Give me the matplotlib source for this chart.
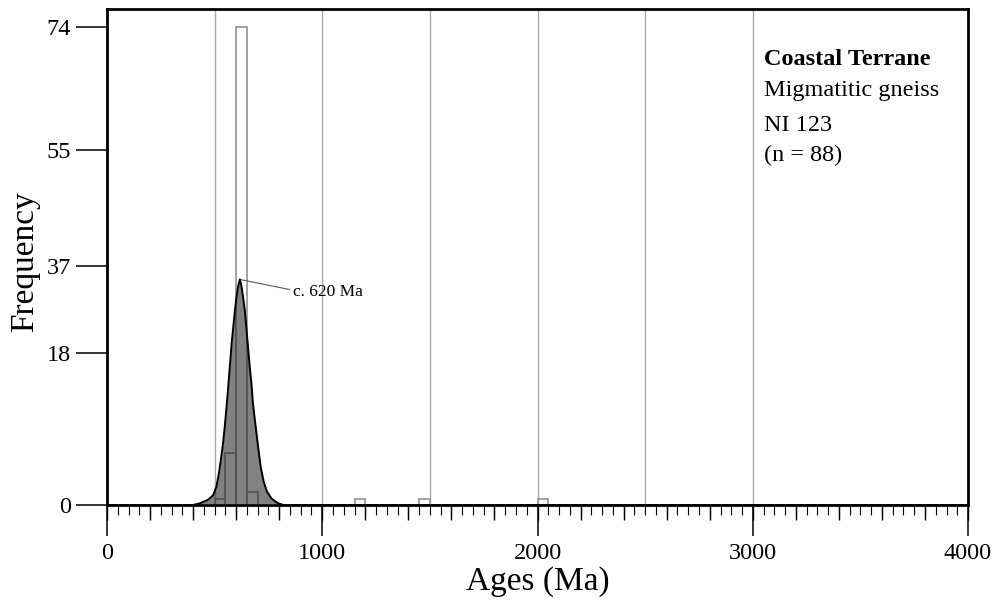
import matplotlib.pyplot as plt
from matplotlib.ticker import MultipleLocator

# Times-like serif font
plt.rcParams['font.family'] = ['Liberation Serif', 'DejaVu Serif']

# histogram: left edge of 50 Ma bins and counts
bin_left = [500, 550, 600, 650, 1150, 1450, 2000]
counts = [1, 8, 74, 2, 1, 1, 1]
bin_width = 50

# probability density curve (age in Ma, height)
curve_age = [0, 400, 431, 469, 493, 508, 520, 531, 539, 547, 554, 561, 567, 573,
             579, 586, 593, 601, 609, 617, 624, 632, 640, 647, 655, 663, 671,
             678, 689, 702, 714, 728, 743, 764, 795, 820, 4000]
curve_h = [0, 0, 0.26, 0.8, 1.5, 2.8, 4.9, 7.5, 9.5, 12.1, 14.7, 17.3, 19.9, 22.4,
           25.0, 27.3, 29.7, 32.0, 33.8, 34.9, 34.0, 32.2, 30.2, 27.6, 24.5, 21.4, 18.8,
           15.7, 12.6, 9.0, 5.9, 3.6, 2.1, 1.0, 0.26, 0, 0]

grid_x = [500, 1000, 1500, 2000, 2500, 3000]
ytick_pos = [0, 23.5, 37, 55, 74]
ytick_labels = ['0', '18', '37', '55', '74']

fig = plt.figure(figsize=(9.98, 6.04), dpi=100)
ax = fig.add_axes([0.1072, 0.1639, 0.8628, 0.8204])

for gx in grid_x:
    ax.axvline(gx, color='#a8a8a8', lw=1.0, zorder=1)

ax.bar(bin_left, counts, width=bin_width, align='edge', facecolor='none',
       edgecolor='#999999', linewidth=1.3, zorder=2)

ax.fill_between(curve_age, curve_h, 0, color='#1a1a1a', alpha=0.55, lw=0, zorder=3)
ax.plot(curve_age, curve_h, color='black', lw=1.4, zorder=4)

ax.annotate('c. 620 Ma', xy=(617, 34.9), xytext=(862, 33.0), fontsize=12.5,
            va='center', ha='left',
            arrowprops=dict(arrowstyle='-', color='#555555', lw=0.8,
                            shrinkA=0, shrinkB=0, relpos=(0, 0.6)))

# sample info
ax.text(0.763, 0.888, 'Coastal Terrane', transform=ax.transAxes, fontsize=17.5,
        fontweight='bold', va='baseline')
ax.text(0.763, 0.826, 'Migmatitic gneiss', transform=ax.transAxes, fontsize=17.5, va='baseline')
ax.text(0.763, 0.7554, 'NI 123', transform=ax.transAxes, fontsize=17.5, va='baseline')
ax.text(0.763, 0.694, '(n = 88)', transform=ax.transAxes, fontsize=17.5, va='baseline')

ax.set_xlim(0, 4000)
ax.set_ylim(0, 76.67)

# x ticks: 1000 major, 200 medium, 50 minor
ax.set_xticks([0, 1000, 2000, 3000, 4000])
ax.xaxis.set_minor_locator(MultipleLocator(50))
ax.tick_params(axis='x', which='major', length=22, width=1.1, pad=5, labelsize=17.5)
ax.tick_params(axis='x', which='minor', length=7, width=0.8)
sec = ax.secondary_xaxis('bottom')
sec.set_xticks(range(0, 4001, 200))
sec.tick_params(axis='x', length=11, width=1.0, labelbottom=False)
sec.spines['bottom'].set_visible(False)

ax.set_yticks(ytick_pos)
ax.set_yticklabels(ytick_labels)
ax.tick_params(axis='y', which='major', length=22, width=1.1, pad=4, labelsize=17.5)

for s in ax.spines.values():
    s.set_linewidth(2.0)

ax.set_xlabel('Ages (Ma)', fontsize=24, va='center')
ax.xaxis.set_label_coords(0.5, -0.155)
ax.set_ylabel('Frequency', fontsize=24, va='center')
ax.yaxis.set_label_coords(-0.0952, 0.4904)

fig.savefig('out.png', dpi=100)
